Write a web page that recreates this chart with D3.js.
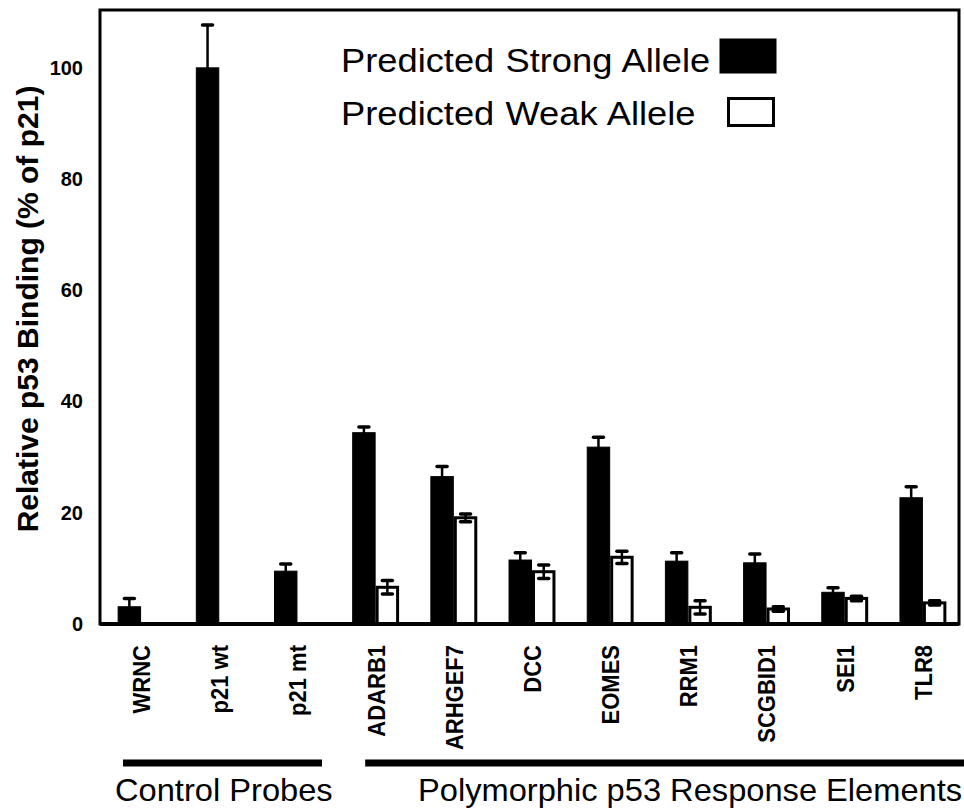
<!DOCTYPE html>
<html>
<head>
<meta charset="utf-8">
<script src="https://cdn.jsdelivr.net/npm/d3@7"></script>
<style>
  body { margin: 0; background: #fff; }
  svg text { font-family: "Liberation Sans", Arial, Helvetica, sans-serif; fill: #000; }
</style>
</head>
<body>
<div id="chart"></div>
<script>
// probes along the x axis
var categories = ["WRNC", "p21 wt", "p21 mt", "ADARB1", "ARHGEF7", "DCC", "EOMES", "RRM1", "SCGBID1", "SEI1", "TLR8"];

// relative p53 binding (% of p21)
var strongValues = [3.1, 100, 9.5, 34.4, 26.5, 11.5, 31.8, 11.3, 11.0, 5.7, 22.7];
var strongErrors = [1.5, 7.7, 1.3, 1.0, 1.8, 1.3, 1.8, 1.5, 1.6, 0.8, 2.0];
var weakValues = [null, null, null, 6.6, 19.1, 9.4, 12.0, 3.0, 2.7, 4.6, 3.8];
var weakErrors = [null, null, null, 1.2, 0.7, 1.2, 1.1, 1.2, 0.4, 0.4, 0.4];

var yTicks = [0, 20, 40, 60, 80, 100];
var seriesNames = ["Predicted Strong Allele", "Predicted Weak Allele"];

// groups drawn under the labels (first and last category index)
var groups = [
  { label: "Control Probes", from: 0, to: 2 },
  { label: "Polymorphic p53 Response Elements", from: 3, to: 10 }
];

var width = 964, height = 809;
var plotLeft = 100, plotRight = 959, plotTop = 10, plotBottom = 624;

var svg = d3.select("#chart")
  .append("svg")
    .attr("width", width)
    .attr("height", height);

var x = d3.scaleBand()
  .domain(categories)
  .range([102, 962])
  .paddingInner(0.4)
  .paddingOuter(0.2);

var xSeries = d3.scaleBand()
  .domain(["strong", "weak"])
  .range([0, x.bandwidth()]);

var y = d3.scaleLinear()
  .domain([0, 110.4])
  .range([plotBottom, plotTop]);

// rows for the bars
var data = [];
categories.forEach(function(c, i) {
  data.push({ cat: c, s: "strong", v: strongValues[i], e: strongErrors[i] });
  if (weakValues[i] != null) {
    data.push({ cat: c, s: "weak", v: weakValues[i], e: weakErrors[i] });
  }
});

// bars
svg.append("g").selectAll("rect")
  .data(data)
  .enter()
  .append("rect")
    .attr("x", function(d) { return x(d.cat) + xSeries(d.s) + (d.s == "weak" ? 1.5 : 0.5); })
    .attr("y", function(d) { return y(d.v); })
    .attr("width", function(d) { return xSeries.bandwidth() - (d.s == "weak" ? 3 : 1); })
    .attr("height", function(d) { return y(0) - y(d.v); })
    .attr("fill", function(d) { return d.s == "strong" ? "#000" : "#fff"; })
    .attr("stroke", "#000")
    .attr("stroke-width", function(d) { return d.s == "weak" ? 3 : 1; });

// error bars
var err = svg.append("g").selectAll("g")
  .data(data)
  .enter()
  .append("g")
    .attr("transform", function(d) { return "translate(" + (x(d.cat) + xSeries(d.s) + xSeries.bandwidth() / 2) + ",0)"; });

err.append("line")
  .attr("y1", function(d) { return y(d.v - d.e); })
  .attr("y2", function(d) { return y(d.v + d.e); })
  .attr("stroke", "#000")
  .attr("stroke-width", 2.5);

err.selectAll("line.cap")
  .data(function(d) { return [d.v + d.e, d.v - d.e]; })
  .enter()
  .append("line")
    .attr("class", "cap")
    .attr("x1", -5)
    .attr("x2", 5)
    .attr("y1", function(v) { return y(v); })
    .attr("y2", function(v) { return y(v); })
    .attr("stroke", "#000")
    .attr("stroke-width", 3.5)
    .attr("stroke-linecap", "round");

// frame
svg.append("rect")
  .attr("x", plotLeft)
  .attr("y", plotTop)
  .attr("width", plotRight - plotLeft)
  .attr("height", plotBottom - plotTop)
  .attr("fill", "none")
  .attr("stroke", "#000")
  .attr("stroke-width", 3);

svg.append("line")
  .attr("x1", plotLeft).attr("x2", plotRight)
  .attr("y1", y(0)).attr("y2", y(0))
  .attr("stroke", "#000")
  .attr("stroke-width", 4);

// y axis (labels only, no tick marks)
var yAxis = svg.append("g")
  .attr("transform", "translate(" + plotLeft + ",0)")
  .call(d3.axisLeft(y).tickValues(yTicks).tickSize(0).tickPadding(17));
yAxis.select(".domain").remove();
yAxis.selectAll("text")
  .attr("font-family", "Liberation Sans, Arial, sans-serif")
  .attr("font-size", 20)
  .attr("font-weight", "bold");

svg.append("text")
  .attr("transform", "translate(38,309) rotate(-90)")
  .attr("text-anchor", "middle")
  .attr("font-size", 30)
  .attr("font-weight", "bold")
  .text("Relative p53 Binding (% of p21)");

// x axis labels, rotated
var xAxis = svg.append("g")
  .attr("transform", "translate(0,622)")
  .call(d3.axisBottom(x).tickSize(0).tickPadding(0));
xAxis.select(".domain").remove();
xAxis.selectAll("text")
  .attr("font-family", "Liberation Sans, Arial, sans-serif")
  .attr("font-size", 22)
  .attr("font-weight", "bold")
  .attr("text-anchor", "end")
  .attr("dy", "0.36em")
  .attr("y", 0)
  .attr("transform", "translate(0,23) scale(1.12,1) rotate(-90)");

// group brackets
svg.append("g").selectAll("line")
  .data(groups)
  .enter()
  .append("line")
    .attr("x1", function(d, i) { return i == 0 ? 123 : x(categories[d.from]) + 13; })
    .attr("x2", function(d, i) { return i == 0 ? 322 : width; })
    .attr("y1", 763)
    .attr("y2", 763)
    .attr("stroke", "#000")
    .attr("stroke-width", 7);

svg.append("g").selectAll("text")
  .data(groups)
  .enter()
  .append("text")
    .attr("transform", function(d, i) { return "translate(" + (i == 0 ? 115 : 418) + ",801) scale(1.02,1)"; })
    .attr("font-size", 32)
    .text(function(d) { return d.label; });

// legend
var legend = svg.append("g").selectAll("g")
  .data(seriesNames)
  .enter()
  .append("g");

legend.append("text")
  .attr("transform", function(d, i) { return "translate(341," + (i == 0 ? 72 : 125) + ") scale(1.1,1)"; })
  .attr("font-size", 33)
  .attr("word-spacing", 1)
  .text(function(d) { return d; });

legend.append("rect")
  .attr("x", function(d, i) { return i == 0 ? 721 : 728.5; })
  .attr("y", function(d, i) { return i == 0 ? 40 : 98.5; })
  .attr("width", function(d, i) { return i == 0 ? 54 : 45; })
  .attr("height", function(d, i) { return i == 0 ? 32 : 27; })
  .attr("fill", function(d, i) { return i == 0 ? "#000" : "#fff"; })
  .attr("stroke", "#000")
  .attr("stroke-width", 3);
</script>
</body>
</html>
